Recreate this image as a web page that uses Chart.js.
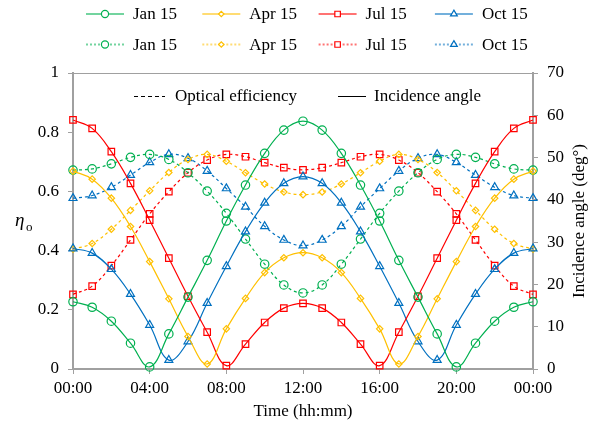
<!DOCTYPE html>
<html>
<head>
<meta charset="utf-8">
<script src="https://cdn.jsdelivr.net/npm/chart.js@4.4.1/dist/chart.umd.min.js"></script>
<style>
  html, body { margin: 0; padding: 0; background: #fff; }
</style>
</head>
<body>
<canvas id="myChart" width="599" height="428"></canvas>
<script>
// hours of the day, 0..24
const HOURS = [0,1,2,3,4,5,6,7,8,9,10,11,12,13,14,15,16,17,18,19,20,21,22,23,24]
const DAYS = ['Jan 15', 'Apr 15', 'Jul 15', 'Oct 15']

// incidence angle (deg), right axis
const JAN_ANGLE = [15.9,14.6,11.3,6.1,0.5,8.3,17.0,25.7,35.0,43.5,51.0,56.5,58.6,56.5,51.0,43.5,35.0,25.7,17.0,8.3,0.5,6.1,11.3,14.6,15.9]
const APR_ANGLE = [46.8,44.9,40.4,33.7,25.4,16.6,7.7,1.2,9.5,16.7,22.8,26.3,27.5,26.3,22.8,16.7,9.5,1.2,7.7,16.6,25.4,33.7,40.4,44.9,46.8]
const JUL_ANGLE = [58.9,56.9,51.4,43.9,35.2,26.2,17.2,8.7,0.8,5.9,11.0,14.4,15.5,14.4,11.0,5.9,0.8,8.7,17.2,26.2,35.2,43.9,51.4,56.9,58.9]
const OCT_ANGLE = [28.5,27.4,23.6,17.7,10.4,2.1,6.5,15.6,24.3,32.5,39.3,43.9,45.5,43.9,39.3,32.5,24.3,15.6,6.5,2.1,10.4,17.7,23.6,27.4,28.5]

// optical efficiency, left axis
const JAN_EFF = [0.672,0.676,0.693,0.715,0.725,0.708,0.663,0.601,0.526,0.439,0.354,0.284,0.257,0.284,0.354,0.439,0.526,0.601,0.663,0.708,0.725,0.715,0.693,0.676,0.672]
const APR_EFF = [0.405,0.424,0.472,0.536,0.602,0.664,0.708,0.725,0.702,0.663,0.625,0.598,0.589,0.598,0.625,0.663,0.702,0.725,0.708,0.664,0.602,0.536,0.472,0.424,0.405]
const JUL_EFF = [0.252,0.280,0.349,0.436,0.524,0.599,0.663,0.706,0.725,0.717,0.697,0.680,0.673,0.680,0.697,0.717,0.725,0.706,0.663,0.599,0.524,0.436,0.349,0.280,0.252]
const OCT_EFF = [0.577,0.586,0.614,0.655,0.698,0.725,0.712,0.669,0.610,0.548,0.482,0.436,0.417,0.436,0.482,0.548,0.610,0.669,0.712,0.725,0.698,0.655,0.614,0.586,0.577]

const LEFT_TICKS = ['0', '0.2', '0.4', '0.6', '0.8', '1']
const RIGHT_TICKS = ['0', '10', '20', '30', '40', '50', '60', '70']
const X_TICKS = ['00:00', '04:00', '08:00', '12:00', '16:00', '20:00', '00:00']

const COLORS = ['#00b050', '#ffc000', '#ff0000', '#0070c0']
const MARKERS = ['circle', 'rectRot', 'rect', 'triangle']
const RADII = [4.2, 3.2, 4.6, 4.6]
const AXIS_GREY = '#a0a0a0'
const FONT = "'Liberation Serif', 'Times New Roman', serif"

Chart.defaults.font.family = FONT
Chart.defaults.font.size = 17
Chart.defaults.color = '#000'

function makeSet(label, data, i, dashed) {
  return {
    label: label,
    data: data,
    yAxisID: dashed ? 'y' : 'y2',
    borderColor: COLORS[i],
    borderWidth: 1.2,
    borderDash: dashed ? [3, 3] : [],
    tension: 0.4,
    pointStyle: MARKERS[i],
    pointRadius: RADII[i],
    pointBorderWidth: 1.2,
    pointBorderColor: COLORS[i],
    pointBackgroundColor: 'rgba(0,0,0,0)',
    fill: false,
    clip: false
  }
}

const datasets = [
  makeSet(DAYS[0], JAN_ANGLE, 0, false),
  makeSet(DAYS[1], APR_ANGLE, 1, false),
  makeSet(DAYS[2], JUL_ANGLE, 2, false),
  makeSet(DAYS[3], OCT_ANGLE, 3, false),
  makeSet(DAYS[0], JAN_EFF, 0, true),
  makeSet(DAYS[1], APR_EFF, 1, true),
  makeSet(DAYS[2], JUL_EFF, 2, true),
  makeSet(DAYS[3], OCT_EFF, 3, true)
]

// small line + marker legend at the top, two rows of four
const topLegend = {
  id: 'topLegend',
  afterDraw(chart) {
    const ctx = chart.ctx
    chart.data.datasets.forEach((ds, i) => {
      const col = i % 4, row = Math.floor(i / 4)
      const x0 = 86 + col * 116.3
      const y = 14 + row * 30.5
      const c = COLORS[col]
      ctx.save()
      ctx.globalAlpha = 0.55
      ctx.strokeStyle = c
      ctx.lineWidth = 2
      ctx.setLineDash(row === 1 ? [2, 2] : [])
      ctx.beginPath()
      ctx.moveTo(x0, y)
      ctx.lineTo(x0 + 38, y)
      ctx.stroke()
      ctx.restore()
      ctx.save()
      ctx.strokeStyle = c
      ctx.fillStyle = '#fff'
      ctx.lineWidth = 1.2
      Chart.helpers.drawPoint(ctx, {pointStyle: MARKERS[col], radius: RADII[col] * 0.85, rotation: 0, borderWidth: 1.2}, x0 + 19, y)
      ctx.restore()
      ctx.save()
      ctx.fillStyle = '#000'
      ctx.font = '17px ' + FONT
      ctx.textBaseline = 'middle'
      ctx.fillText(ds.label, x0 + 47, y + 1)
      ctx.restore()
    })
  }
}

// inner legend, axis titles and the top frame line
const extras = {
  id: 'extras',
  afterDraw(chart) {
    const ctx = chart.ctx
    const a = chart.chartArea
    ctx.save()
    ctx.strokeStyle = AXIS_GREY
    ctx.lineWidth = 1
    ctx.beginPath()
    ctx.moveTo(a.left, a.top + 0.5)
    ctx.lineTo(a.right, a.top + 0.5)
    ctx.stroke()

    ctx.strokeStyle = '#000'
    ctx.lineWidth = 1
    ctx.setLineDash([4, 3])
    ctx.beginPath()
    ctx.moveTo(134, 96.5)
    ctx.lineTo(165, 96.5)
    ctx.stroke()
    ctx.setLineDash([])
    ctx.beginPath()
    ctx.moveTo(338, 96.5)
    ctx.lineTo(366, 96.5)
    ctx.stroke()
    ctx.fillStyle = '#000'
    ctx.font = '17px ' + FONT
    ctx.textBaseline = 'middle'
    ctx.fillText('Optical efficiency', 175, 97)
    ctx.fillText('Incidence angle', 374, 97)

    ctx.font = 'italic 19px ' + FONT
    ctx.fillText('η', 15, 221)
    ctx.font = '13px ' + FONT
    ctx.fillText('o', 26, 228)

    ctx.translate(580, (a.top + a.bottom) / 2)
    ctx.rotate(-Math.PI / 2)
    ctx.textAlign = 'center'
    ctx.font = '17px ' + FONT
    ctx.fillText('Incidence angle (deg°)', 0, 0)
    ctx.restore()
  }
}

const ctx = document.getElementById('myChart').getContext('2d')
const chart = new Chart(ctx, {
  type: 'line',
  data: { labels: HOURS, datasets: datasets },
  options: {
    responsive: false,
    animation: false,
    layout: { padding: { top: 73, left: 0, right: 0, bottom: 0 } },
    plugins: { legend: { display: false }, tooltip: { enabled: false } },
    scales: {
      x: {
        type: 'linear',
        min: 0, max: 24,
        afterFit: s => { s.height = 59 },
        ticks: { stepSize: 4, padding: 4, maxRotation: 0, callback: (v, i) => X_TICKS[i] },
        grid: { drawOnChartArea: false, tickLength: 5, color: AXIS_GREY },
        border: { color: AXIS_GREY, width: 2 },
        title: { display: true, text: 'Time (hh:mm)', padding: { top: 0, bottom: 6 } }
      },
      y: {
        position: 'left',
        min: 0, max: 1,
        afterFit: s => { s.width = 73 },
        ticks: { stepSize: 0.2, padding: 9, callback: (v, i) => LEFT_TICKS[i] },
        grid: { drawOnChartArea: false, tickLength: 5, color: AXIS_GREY },
        border: { color: AXIS_GREY, width: 2 }
      },
      y2: {
        position: 'right',
        min: 0, max: 70,
        afterFit: s => { s.width = 66 },
        ticks: { stepSize: 10, padding: 9, callback: (v, i) => RIGHT_TICKS[i] },
        grid: { drawOnChartArea: false, tickLength: 5, color: AXIS_GREY },
        border: { color: AXIS_GREY, width: 2 }
      }
    }
  },
  plugins: [topLegend, extras]
})
</script>
</body>
</html>
